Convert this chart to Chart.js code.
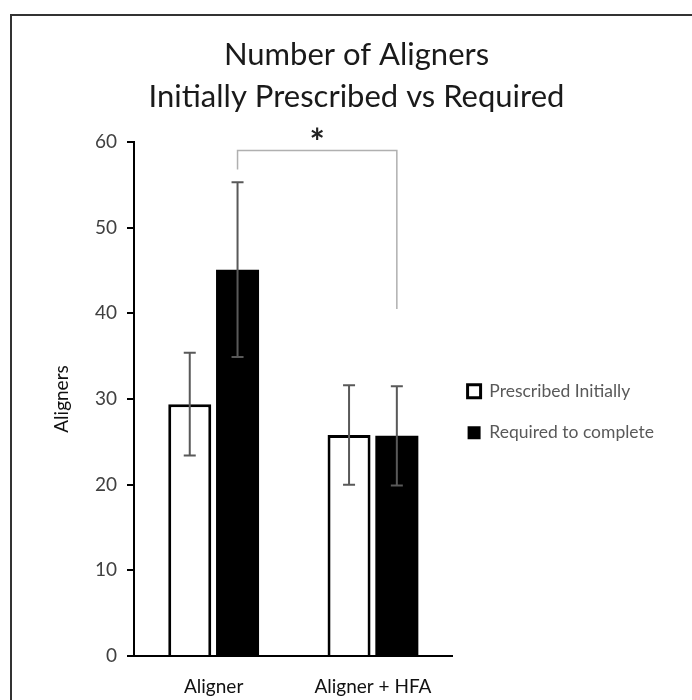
<!DOCTYPE html>
<html>
<head>
<meta charset="utf-8">
<script src="https://cdn.jsdelivr.net/npm/chart.js@4"></script>
<style>
  html, body { margin: 0; padding: 0; background: #fff; }
  #wrap { position: relative; width: 692px; height: 700px; overflow: hidden; }
  #frame { position: absolute; left: 10px; top: 14px; width: 720px; height: 720px;
           border-left: 2px solid #333; border-top: 2px solid #333; }
  canvas { position: absolute; left: 0; top: 0; }
</style>
</head>
<body>
<div id="wrap">
  <div id="frame"></div>
  <canvas id="barChart" width="692" height="700"></canvas>
</div>
<script>
    const categories = ['Aligner', 'Aligner + HFA'];
    const prescribed = [29.4, 25.8];
    const prescribedErr = [6.0, 5.8];
    const required = [45.1, 25.7];
    const requiredErr = [10.2, 5.8];

    // significance bracket: left leg end, top, right leg end (axis values)
    const bracketLeft = 56.8;
    const bracketTop = 59.0;
    const bracketRight = 40.5;

    const errors = [prescribedErr, requiredErr];

    const errorBars = {
        id: 'errorBars',
        afterDatasetsDraw(chart) {
            const ctx = chart.ctx;
            const y = chart.scales.y;
            ctx.save();
            ctx.strokeStyle = '#595959';
            ctx.lineWidth = 2;
            chart.data.datasets.forEach((ds, i) => {
                chart.getDatasetMeta(i).data.forEach((bar, j) => {
                    const v = ds.data[j], e = errors[i][j];
                    const top = y.getPixelForValue(v + e);
                    const bot = y.getPixelForValue(v - e);
                    ctx.beginPath();
                    ctx.moveTo(bar.x, top); ctx.lineTo(bar.x, bot);
                    ctx.moveTo(bar.x - 6, top); ctx.lineTo(bar.x + 6, top);
                    ctx.moveTo(bar.x - 6, bot); ctx.lineTo(bar.x + 6, bot);
                    ctx.stroke();
                });
            });
            ctx.restore();
        }
    };

    const bracket = {
        id: 'bracket',
        afterDatasetsDraw(chart) {
            const ctx = chart.ctx;
            const y = chart.scales.y;
            const bars = chart.getDatasetMeta(1).data;
            const x1 = bars[0].x, x2 = bars[1].x;
            const yt = y.getPixelForValue(bracketTop);
            ctx.save();
            ctx.strokeStyle = '#b0b0b0';
            ctx.lineWidth = 1.5;
            ctx.beginPath();
            ctx.moveTo(x1, y.getPixelForValue(bracketLeft));
            ctx.lineTo(x1, yt);
            ctx.lineTo(x2, yt);
            ctx.lineTo(x2, y.getPixelForValue(bracketRight));
            ctx.stroke();
            ctx.fillStyle = '#222';
            ctx.font = 'bold 36px Lato';
            ctx.textAlign = 'center';
            ctx.textBaseline = 'alphabetic';
            ctx.fillText('*', (x1 + x2) / 2, yt + 4);
            ctx.restore();
        }
    };

    // nudge the legend a little left and down, like the original
    const legendNudge = {
        id: 'legendNudge',
        afterLayout(chart) {
            const lg = chart.legend;
            lg.left -= 9; lg.right -= 9;
            lg.top += 45; lg.bottom += 45;
        }
    };

    const barChartData = {
        labels: categories,
        datasets: [{
            label: 'Prescribed Initially',
            data: prescribed,
            backgroundColor: '#fff',
            borderColor: '#000',
            borderWidth: 3
        }, {
            label: 'Required to complete',
            data: required,
            backgroundColor: '#000',
            borderColor: '#000',
            borderWidth: 0
        }]
    };

    new Chart(document.getElementById('barChart'), {
        type: 'bar',
        data: barChartData,
        plugins: [errorBars, bracket, legendNudge],
        options: {
            responsive: false,
            animation: false,
            categoryPercentage: 0.6,
            barPercentage: 0.9,
            layout: { padding: { left: 40, right: 19, top: 34, bottom: 0 } },
            plugins: {
                tooltip: { enabled: false },
                title: {
                    display: true,
                    text: ['Number of Aligners', 'Initially Prescribed vs Required'],
                    color: '#1a1a1a',
                    font: { family: 'Lato', size: 31, weight: 'normal', lineHeight: 1.355 },
                    padding: { top: 0, bottom: 24 }
                },
                legend: {
                    position: 'right',
                    maxWidth: 300,
                    labels: {
                        color: '#595959',
                        font: { family: 'Lato', size: 17.5 },
                        boxWidth: 13,
                        boxHeight: 13,
                        padding: 24
                    }
                }
            },
            scales: {
                x: {
                    grid: { display: false, drawTicks: false },
                    border: { display: true, color: '#000', width: 2 },
                    ticks: { color: '#111', font: { family: 'Lato', size: 19 }, padding: 19 },
                    afterFit(scale) { scale.height = 44; }
                },
                y: {
                    min: 0,
                    max: 60,
                    ticks: { stepSize: 10, color: '#404040', font: { family: 'Lato', size: 19 }, padding: 10 },
                    grid: { drawOnChartArea: false, drawTicks: true, tickLength: 7, color: '#000', lineWidth: 2 },
                    border: { display: true, color: '#000', width: 2 },
                    title: {
                        display: true,
                        text: 'Aligners',
                        color: '#111',
                        font: { family: 'Lato', size: 19 },
                        padding: { top: 10, bottom: 20 }
                    },
                    afterFit(scale) { scale.width = 94; }
                }
            }
        }
    });
</script>
</body>
</html>
